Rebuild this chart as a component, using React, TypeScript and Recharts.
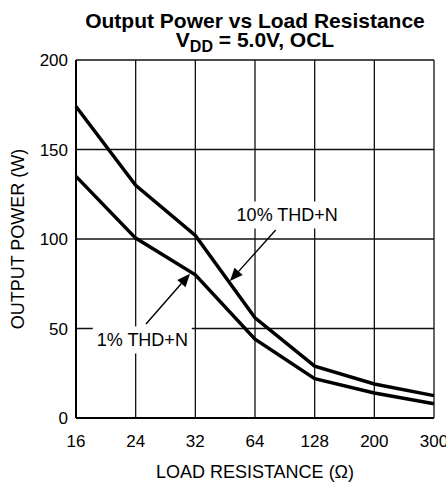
import React from 'react';
import {
  LineChart,
  Line,
  XAxis,
  YAxis,
  CartesianGrid,
  ReferenceLine,
  ReferenceDot,
} from 'recharts';

const categories = ['16', '24', '32', '64', '128', '200', '300'];
const thd10 = [174, 130, 102, 56, 29, 19, 12.5];
const thd1 = [135, 100.5, 80, 44, 22, 14, 8];
const yTicks = [0, 50, 100, 150, 200];

// annotation anchors in data coordinates (x = category index, y = watts)
const label10 = { x: 3.54, y: 113.7, text: '10% THD+N' };
const arrow10 = { from: { x: 3.347, y: 105 }, to: { x: 2.58, y: 76.5 } };
const label1 = { x: 1.111, y: 43.9, text: '1% THD+N' };
const arrow1 = { from: { x: 1.173, y: 52.5 }, to: { x: 1.91, y: 80.6 } };

const data = categories.map((c, i) => ({ idx: i, r: c, thd10: thd10[i], thd1: thd1[i] }));
const xTicks = categories.map((_, i) => i);

const FONT = '"Liberation Sans", Arial, Helvetica, sans-serif';

const ArrowShape = (p: any) => {
  const { x1, y1, x2, y2 } = p;
  if ([x1, y1, x2, y2].some((v) => typeof v !== 'number' || isNaN(v))) return null;
  const dx = x2 - x1;
  const dy = y2 - y1;
  const len = Math.sqrt(dx * dx + dy * dy);
  const ux = dx / len;
  const uy = dy / len;
  const headLen = 13;
  const headW = 5.5;
  const bx = x2 - ux * headLen;
  const by = y2 - uy * headLen;
  const px = -uy;
  const py = ux;
  return (
    <g>
      <line x1={x1} y1={y1} x2={bx} y2={by} stroke="#000" strokeWidth={1.4} />
      <polygon
        points={`${x2},${y2} ${bx + px * headW},${by + py * headW} ${bx - px * headW},${by - py * headW}`}
        fill="#000"
      />
    </g>
  );
};

const makeLabelShape = (text: string, boxW: number) => (p: any) => {
  const { cx, cy } = p;
  if (typeof cx !== 'number' || typeof cy !== 'number') return null;
  return (
    <g>
      <rect x={cx - boxW / 2} y={cy - 13} width={boxW} height={27} fill="#fff" />
      <text
        x={cx}
        y={cy + 6.5}
        textAnchor="middle"
        fontFamily={FONT}
        fontSize={18}
        fill="#000"
      >
        {text}
      </text>
    </g>
  );
};

export default function App() {
  return (
    <div style={{ position: 'absolute', left: 0, top: 0, width: 446, height: 483, background: '#fff' }}>
      <svg
        width={446}
        height={60}
        style={{ position: 'absolute', left: 0, top: 0, pointerEvents: 'none' }}
      >
        <text x={255} y={27.5} textAnchor="middle" fontFamily={FONT} fontWeight="bold" fontSize={21} fill="#000">
          Output Power vs Load Resistance
        </text>
        <text x={255} y={46.5} textAnchor="middle" fontFamily={FONT} fontWeight="bold" fontSize={21} fill="#000">
          V
          <tspan fontSize={16} dy={5}>
            DD
          </tspan>
          <tspan dy={-5}>{'\u00a0= 5.0V, OCL'}</tspan>
        </text>
      </svg>
      <LineChart
        width={446}
        height={483}
        data={data}
        margin={{ top: 60, right: 12, left: 0, bottom: 0 }}
      >
        <CartesianGrid stroke="#111" strokeWidth={1.3} />
        <XAxis
          dataKey="idx"
          type="number"
          domain={[0, 6]}
          ticks={xTicks}
          tickFormatter={(v: number) => categories[v] ?? ''}
          interval={0}
          height={65}
          tickLine={false}
          tickSize={0}
          tickMargin={17}
          axisLine={{ stroke: '#000', strokeWidth: 2 }}
          tick={{ fill: '#000', fontSize: 17, fontFamily: FONT }}
          label={{
            content: (props: any) => {
              const vb = props.viewBox || {};
              return (
                <text
                  x={vb.x + vb.width / 2}
                  y={vb.y + 60}
                  textAnchor="middle"
                  fontFamily={FONT}
                  fontSize={18}
                  fill="#000"
                >
                  LOAD RESISTANCE (Ω)
                </text>
              );
            },
          }}
        />
        <YAxis
          type="number"
          domain={[0, 200]}
          ticks={yTicks}
          width={76}
          tickLine={false}
          tickSize={0}
          tickMargin={8}
          axisLine={{ stroke: '#000', strokeWidth: 2 }}
          tick={{ fill: '#000', fontSize: 17, fontFamily: FONT }}
          label={{
            content: (props: any) => {
              const vb = props.viewBox || {};
              const x = vb.x + 23.5;
              const y = vb.y + vb.height / 2;
              return (
                <text
                  x={x}
                  y={y}
                  transform={`rotate(-90 ${x} ${y})`}
                  textAnchor="middle"
                  fontFamily={FONT}
                  fontSize={18}
                  fill="#000"
                >
                  OUTPUT POWER (W)
                </text>
              );
            },
          }}
        />
        <Line
          type="linear"
          dataKey="thd10"
          stroke="#000"
          strokeWidth={3.5}
          dot={false}
          isAnimationActive={false}
        />
        <Line
          type="linear"
          dataKey="thd1"
          stroke="#000"
          strokeWidth={3.5}
          dot={false}
          isAnimationActive={false}
        />
        <ReferenceLine
          segment={[arrow10.from, arrow10.to]}
          shape={ArrowShape}
          ifOverflow="visible"
        />
        <ReferenceLine
          segment={[arrow1.from, arrow1.to]}
          shape={ArrowShape}
          ifOverflow="visible"
        />
        <ReferenceDot
          x={label10.x}
          y={label10.y}
          r={1}
          ifOverflow="visible"
          shape={makeLabelShape(label10.text, 106)}
        />
        <ReferenceDot
          x={label1.x}
          y={label1.y}
          r={1}
          ifOverflow="visible"
          shape={makeLabelShape(label1.text, 99)}
        />
      </LineChart>
    </div>
  );
}
